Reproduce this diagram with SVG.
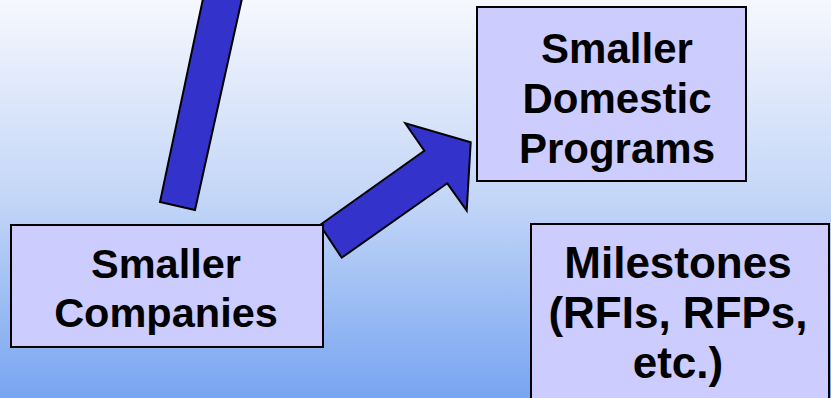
<svg xmlns="http://www.w3.org/2000/svg" width="831" height="398" viewBox="0 0 831 398">
<defs>
<linearGradient id="bg" x1="0" y1="0" x2="0" y2="1">
<stop offset="0" stop-color="#f6f8fe"/>
<stop offset="0.5" stop-color="#c3d6f7"/>
<stop offset="1" stop-color="#78a5f1"/>
</linearGradient>
<style>
.box{fill:#ccccff;stroke:#000;stroke-width:2}
.arrow{fill:#3333cc;stroke:#000;stroke-width:2;stroke-linejoin:miter}
.lbl{font-family:"Liberation Sans",Arial,sans-serif;font-weight:bold;font-size:41.5px;fill:#000;text-anchor:middle}
.big{font-size:44px}
.mid{font-size:42px}
</style>
</defs>
<rect x="0" y="0" width="831" height="398" fill="url(#bg)"/>
<g id="connectors">
<polygon class="arrow" points="204,-6 243,-6 195,210 160,202"/>
<polygon class="arrow" points="320,225 424.3,150.7 405.3,123.3 470.7,142.3 466.7,210.7 447.3,183.3 341.7,257.7"/>
</g>
<g id="node-companies">
<rect class="box" x="11" y="225" width="312" height="122"/>
<text class="lbl" x="166" y="278">Smaller</text>
<text class="lbl" x="166" y="327">Companies</text>
</g>
<g id="node-domestic">
<rect class="box" x="477" y="7" width="269" height="174"/>
<text class="lbl mid" x="617" y="63">Smaller</text>
<text class="lbl mid" x="617" y="113">Domestic</text>
<text class="lbl mid" x="617" y="163">Programs</text>
</g>
<g id="node-milestones">
<rect class="box" x="531" y="224" width="298" height="200"/>
<text class="lbl big" x="678" y="278">Milestones</text>
<text class="lbl big" x="678" y="328">(RFIs, RFPs,</text>
<text class="lbl big" x="678" y="378">etc.)</text>
</g>
</svg>
